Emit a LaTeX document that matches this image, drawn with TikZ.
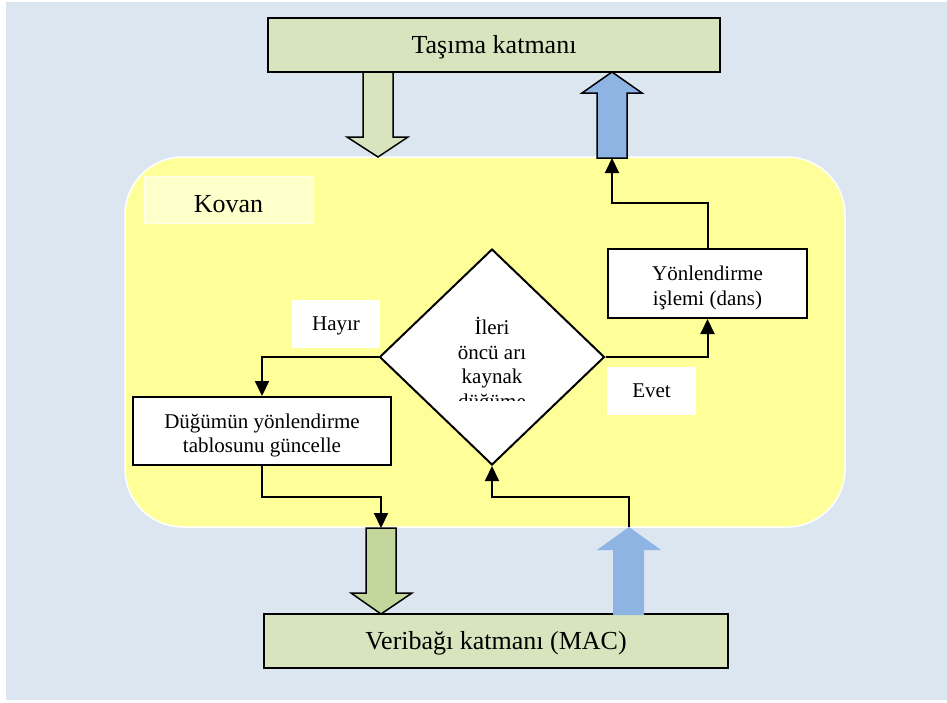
\documentclass[tikz,border=0pt]{standalone}
\usepackage{fontspec}
\setmainfont{Liberation Serif}
\usetikzlibrary{arrows.meta,shapes.geometric}

\definecolor{pagebg}{HTML}{DCE6F1}
\definecolor{layergreen}{HTML}{D7E4BD}
\definecolor{darkgreen}{HTML}{C3D69B}
\definecolor{flowblue}{HTML}{8EB4E3}
\definecolor{hiveyellow}{HTML}{FFFF99}
\definecolor{labelyellow}{HTML}{FFFFCC}

\newcommand{\bigtext}{\fontsize{26}{30}\selectfont}
\newcommand{\smalltext}{\fontsize{21}{24.5}\selectfont}

\tikzset{
  layerbox/.style={draw=black, line width=2pt, fill=layergreen, inner sep=0pt,
                   minimum height=54pt, font=\bigtext,
                   text height=22pt, text depth=5.5pt},
  whitebox/.style={draw=black, line width=2pt, fill=white, inner sep=0pt,
                   align=center, font=\smalltext, text height=48pt, text depth=4.6pt},
  tagbox/.style={fill=white, inner sep=0pt, font=\smalltext,
                 text height=18pt, text depth=4.5pt},
  conn/.style={line width=2pt, -{Triangle[width=14pt,length=15pt]}},
  blockarrow/.style={draw=black, line width=1.5pt, line join=miter},
}

\begin{document}
\begin{tikzpicture}[x=1pt, y=-1pt]
  % page frame
  \useasboundingbox (0,0) rectangle (947,702);
  \fill[white] (0,0) rectangle (947,702);
  \fill[pagebg] (6,2) rectangle (947,700);

  % hive area
  \node[draw=white, line width=1.5pt, fill=hiveyellow, rounded corners=58pt,
        minimum width=720pt, minimum height=370pt, inner sep=0pt]
        (hive) at (485,342) {};
  \node[draw=white!60!labelyellow, line width=1pt, fill=labelyellow,
        minimum width=169pt, minimum height=47pt, inner sep=0pt, font=\bigtext,
        text height=25pt, text depth=0pt]
        (kovan) at (228.5,199.5) {Kovan};

  % layers
  \node[layerbox, minimum width=452pt] (transport) at (494,45) {Taşıma katmanı};
  \node[layerbox, minimum width=464pt] (mac) at (496,641) {Veribağı katmanı (MAC)};

  % block arrows between layers and hive
  \coordinate (downTopBase) at (378,157);
  \draw[blockarrow, fill=layergreen]
    (363,72) -- (393,72) -- (393,137) -- (408,137) -- (downTopBase)
    -- (347,137) -- (363,137) -- cycle;
  \coordinate (upTopBase) at (612,158);
  \draw[blockarrow, fill=flowblue]
    (597,158) -- (627,158) -- (627,93) -- (642,93) -- (612,72)
    -- (582,93) -- (597,93) -- cycle;
  \coordinate (downBotTop) at (381,528);
  \draw[blockarrow, fill=darkgreen]
    (366,528) -- (396,528) -- (396,593) -- (412,593) -- (381,614)
    -- (351,593) -- (366,593) -- cycle;
  \coordinate (upBotTip) at (629,527);
  \fill[flowblue]
    (613,615) -- (644,615) -- (644,550) -- (661,550) -- (upBotTip)
    -- (597,550) -- (613,550) -- cycle;

  % decision
  \node[draw=black, line width=2pt, fill=white, shape=diamond, inner sep=0pt,
        minimum width=225pt, minimum height=216pt] (decide) at (492,357) {};
  \begin{scope}
    \clip (430,300) rectangle (555,400);
    \node[align=center, font=\smalltext, inner sep=0pt] (decidetext)
      at (492,365) {İleri\\öncü arı\\kaynak\\düğüme};
  \end{scope}

  % process boxes
  \node[whitebox, minimum width=258pt, minimum height=68pt] (update)
    at (262,431) {Düğümün yönlendirme\\tablosunu güncelle};
  \node[whitebox, minimum width=199pt, minimum height=69pt] (dance)
    at (707.5,283.5) {Yönlendirme\\işlemi (dans)};

  % branch labels
  \node[tagbox, minimum width=88pt, minimum height=48pt] (no) at (336,324) {Hayır};
  \node[tagbox, minimum width=89pt, minimum height=48pt] (yes) at (651.5,391) {Evet};

  % flow connectors
  \draw[conn] (decide.west) -| (update.north);
  \draw[conn] (decide.east) -| (dance.south);
  \draw[conn] (dance.north) -- (dance.north |- 0,203) -| (upTopBase);
  \draw[conn] (update.south) -- (update.south |- 0,497) -| (downBotTop);
  \draw[conn] (upBotTip) -- (upBotTip |- 0,497) -| (decide.south);
\end{tikzpicture}
\end{document}
